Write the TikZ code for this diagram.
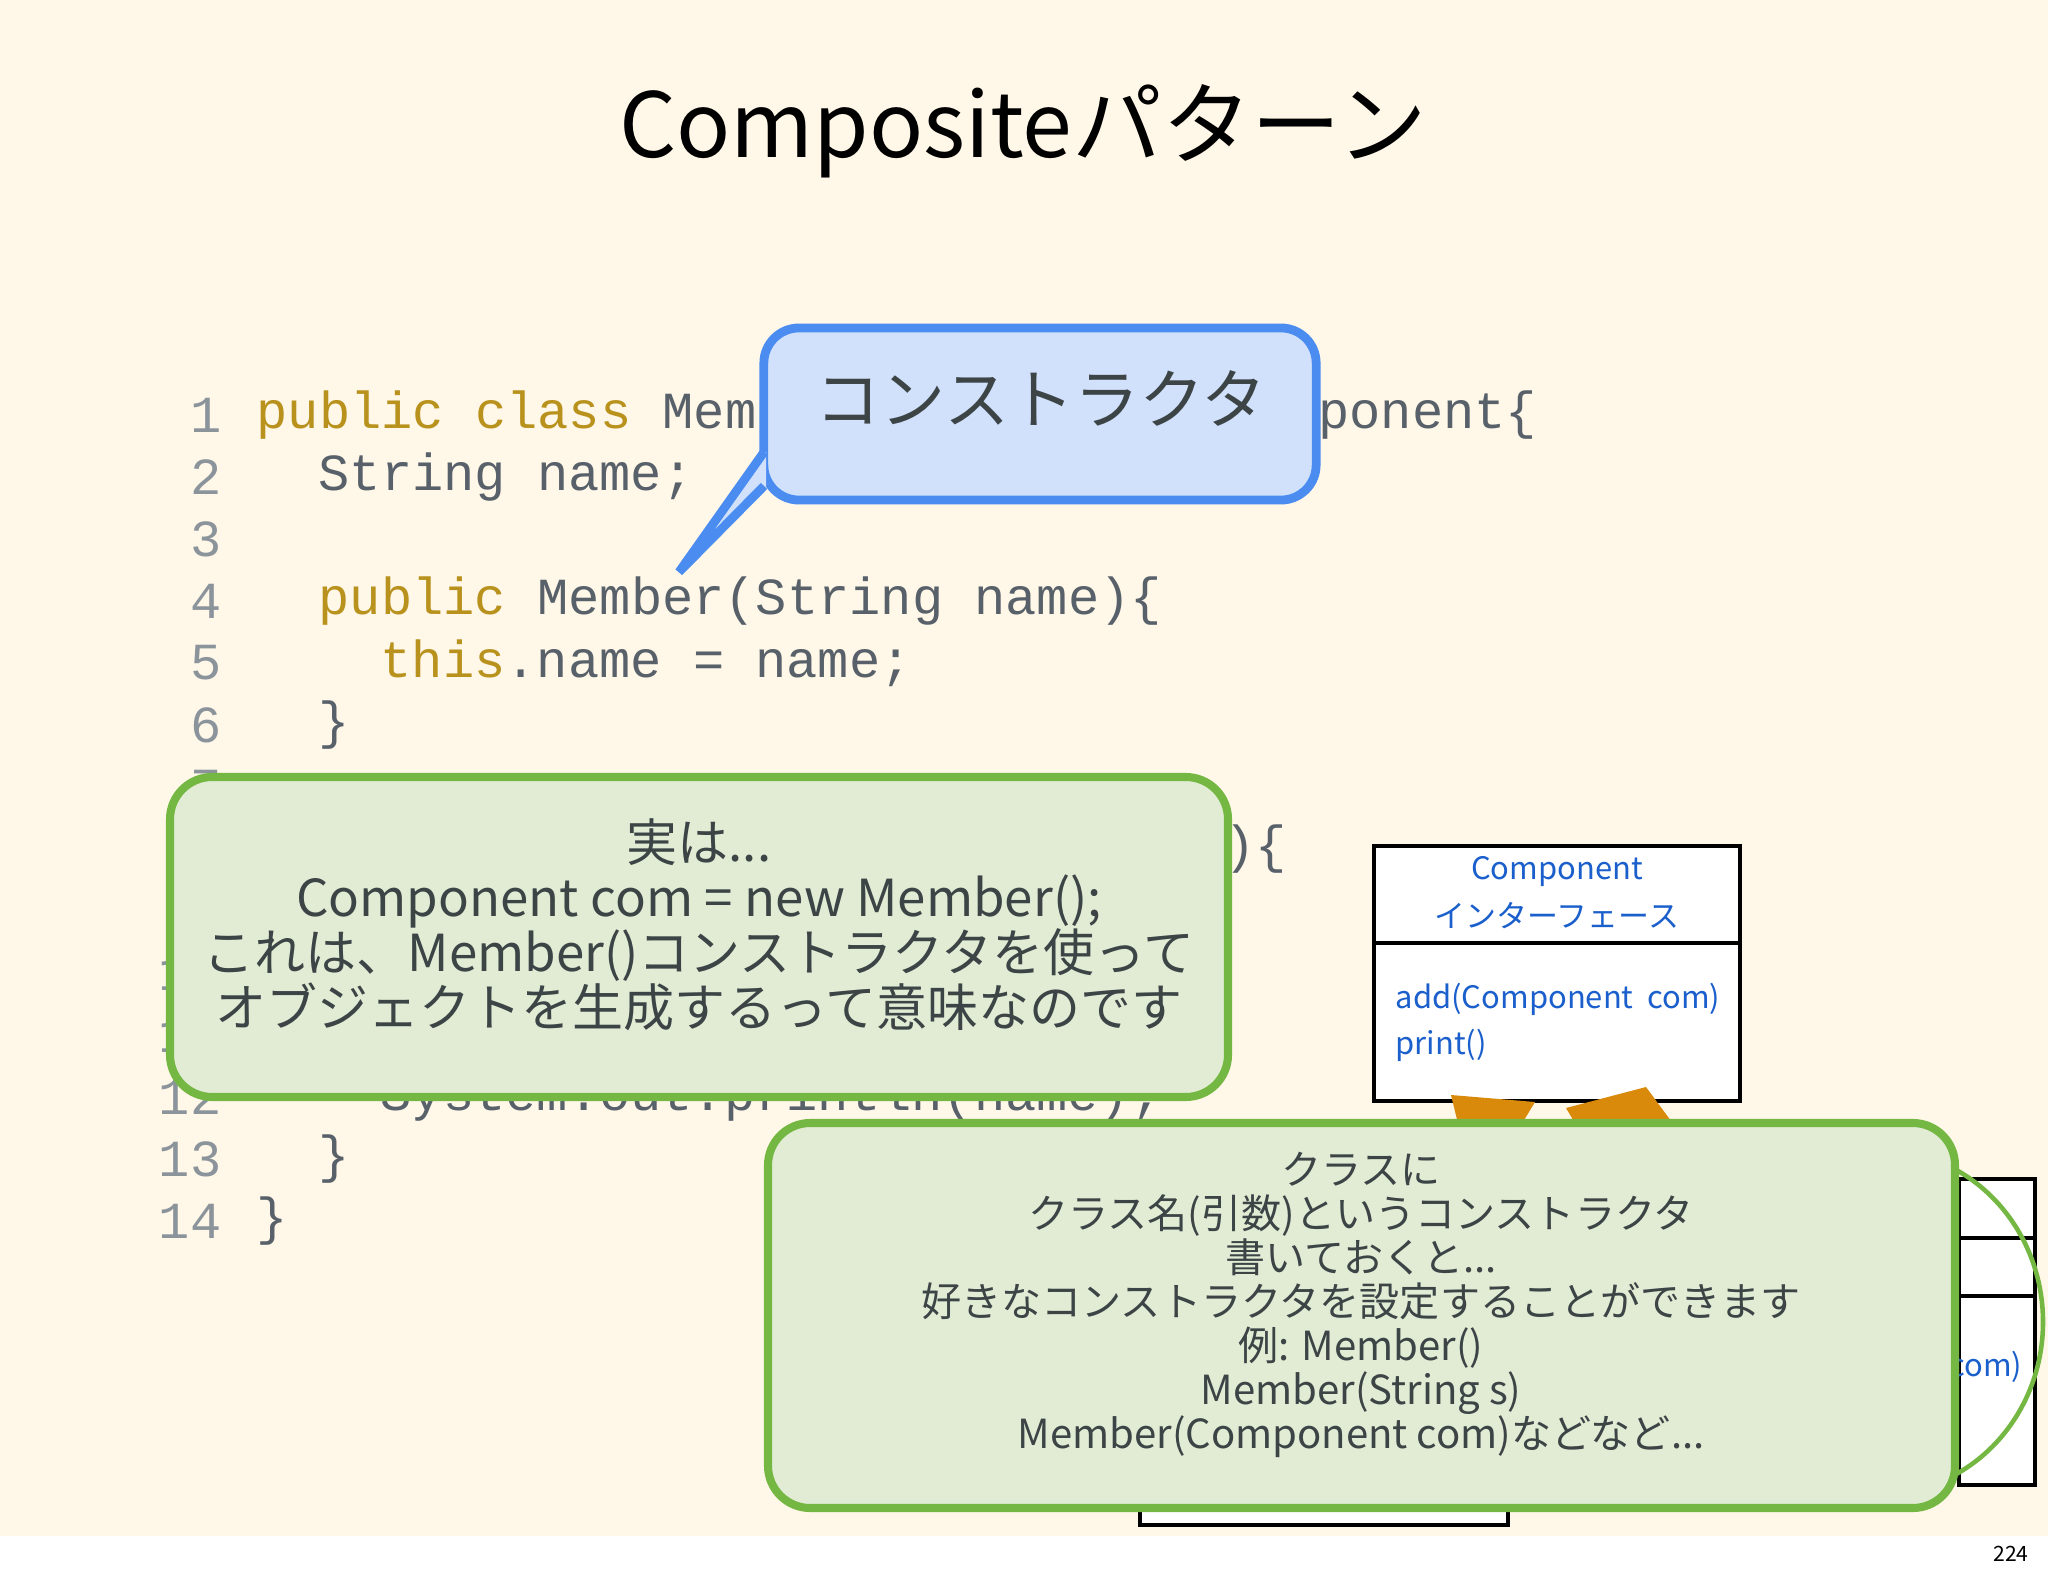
\documentclass[tikz,border=0pt]{standalone}
\usepackage{fontspec}
\setmainfont{Noto Sans CJK JP}
\newfontfamily\codefont{Liberation Mono}
\usetikzlibrary{positioning}
\definecolor{cream}{HTML}{FFF7E8}
\definecolor{kwgold}{HTML}{B8921C}
\definecolor{codegray}{HTML}{58616A}
\definecolor{numgray}{HTML}{8C949B}
\definecolor{notefill}{HTML}{E2ECD5}
\definecolor{noteline}{HTML}{74B843}
\definecolor{calfill}{HTML}{D1E1FB}
\definecolor{calline}{HTML}{4A8CF0}
\definecolor{umlblue}{HTML}{1A5FCC}
\definecolor{notetext}{HTML}{3C4446}
\definecolor{arrorange}{HTML}{D98A0A}
\newcommand{\kw}[1]{\textcolor{kwgold}{#1}}
\tikzset{
    code_line/.style={anchor=west, inner sep=0pt, font=\codefont\fontsize{14.8}{16}\selectfont, text=codegray},
    line_num/.style={anchor=east, inner sep=0pt, font=\codefont\fontsize{14.8}{16}\selectfont, text=numgray},
    note_box/.style={draw=noteline, fill=notefill, line width=2.3pt, rounded corners=12pt},
    note_text/.style={align=center, text=notetext, font=\fontsize{14.5}{15.6}\selectfont},
    uml_box/.style={draw=black, fill=white, line width=1pt},
    uml_text/.style={text=umlblue, font=\fontsize{8.8}{10}\selectfont, inner sep=0pt},
}
\begin{document}
\begin{tikzpicture}[x=0.01cm, y=-0.01cm]
      \useasboundingbox (0,0) rectangle (2048,1576);
      \fill[cream] (0,0) rectangle (2048,1536);
      \fill[white] (0,1536) rectangle (2048,1576);
      \node (pagenum) at (2011,1554) {\fontsize{6}{7}\selectfont 224};

      % title
      \node (title) at (1023,131) {\fontsize{25.5}{28}\selectfont Compositeパターン};

      % code listing
      \foreach \n in {1,...,14}
          \node (num\n) [line_num] at (222,{415+62*(\n-1)}) {\n};
      \node (code1) [code_line] at (256,415) {\kw{public class} Member implements Component\{};
      \node (code2) [code_line] at (318,477) {String name;};
      \node (code4) [code_line] at (318,601) {\kw{public} Member(String name)\{};
      \node (code5) [code_line] at (380,663) {\kw{this}.name = name;};
      \node (code6) [code_line] at (318,725) {\}};
      \node (code8) [code_line] at (318,849) {\kw{public void} add(Component com)\{};
      \node (code9) [code_line] at (318,911) {\}};
      \node (code11) [code_line] at (318,1035) {\kw{public void} print()\{};
      \node (code12) [code_line] at (380,1097) {System.out.println(name);};
      \node (code13) [code_line] at (318,1159) {\}};
      \node (code14) [code_line] at (256,1221) {\}};

      % callout
      \node (callout) [draw=calline, fill=calfill, line width=2.5pt, rounded corners=10pt,
          minimum width=5.52cm, minimum height=1.72cm, inner sep=0pt] at (1040,414) {};
      \coordinate (tip) at (679,572);
      \fill[calfill] (766,452) -- (tip) -- (766,486) -- cycle;
      \draw[calline, line width=2.5pt] (764,452) -- (tip) -- (764,486);
      \node (caltext) at (1041,398) {\fontsize{18.5}{20}\selectfont\color{notetext}コンストラクタ};

      % note 1
      \draw[note_box] (170,777) rectangle (1228,1097);
      \node (note1) [note_text] at (699,925)
          {実は...\\Component com = new Member();\\これは、Member()コンストラクタを使って\\オブジェクトを生成するって意味なのです};

      % UML boxes
      \draw[uml_box] (1140,1400) rectangle (1508,1525);
      \draw[uml_box] (1959,1179) rectangle (2035,1485);
      \draw[black, line width=1pt] (1959,1238) -- (2035,1238) (1959,1296) -- (2035,1296);
      \node (subcom) [uml_text, anchor=east] at (2023,1367) {com)};
      \draw[noteline, line width=1.3pt] (1880,1322) ellipse (163 and 172);
      \node (comp) [uml_box, minimum width=3.66cm, minimum height=2.55cm, inner sep=0pt] at (1557,973.5) {};
      \draw[black, line width=1pt] (comp.west |- 0,943) -- (comp.east |- 0,943);
      \node (compname) [uml_text] at (1557,871) {Component};
      \node (compkind) [uml_text] at (1557,916) {インターフェース};
      \node (compadd) [uml_text, anchor=west] at (1395,999) {add(Component\ \ com)};
      \node (compprint) [uml_text, anchor=west] at (1395,1045) {print()};
      \fill[arrorange] (1451,1095) -- (1535,1102) -- (1512,1140) -- (1462,1140) -- cycle;
      \fill[arrorange] (1646,1087) -- (1566,1108) -- (1585,1140) -- (1685,1140) -- cycle;

      % note 2
      \draw[note_box] (768,1123) rectangle (1955,1508);
      \node (note2) [note_text, font=\fontsize{11.4}{12.5}\selectfont] at (1361,1305)
          {クラスに\\クラス名(引数)というコンストラクタ\\書いておくと...\\好きなコンストラクタを設定することができます\\例: Member()\\Member(String s)\\Member(Component com)などなど...};
\end{tikzpicture}
\end{document}
